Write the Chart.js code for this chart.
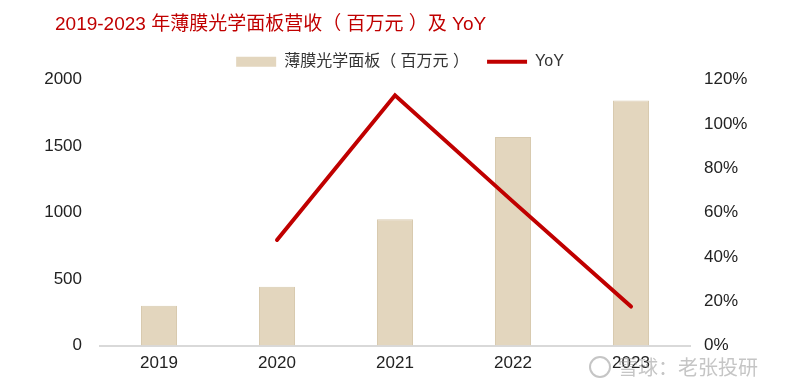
<!DOCTYPE html>
<html>
<head>
<meta charset="utf-8">
<script src="https://cdn.jsdelivr.net/npm/chart.js@4.4.1/dist/chart.umd.min.js"></script>
<style>
  html, body { margin: 0; padding: 0; background: #fff; }
  #wrap { width: 800px; height: 390px; }
</style>
</head>
<body>
<div id="wrap"><canvas id="chart" width="800" height="390"></canvas></div>
<script>
const years = ['2019', '2020', '2021', '2022', '2023'];
const revenue = [300, 443, 951, 1570, 1844];   // 百万元
const yoy = [null, 47.7, 113, 65, 17.6];       // %
const leftTicks = [0, 500, 1000, 1500, 2000];

const FONT = '"Liberation Sans", Arial, "Noto Sans CJK SC", sans-serif';

// title sits a little in from the left edge
const titleIndent = {
    id: 'titleIndent',
    afterLayout(chart) {
        if (chart.titleBlock) chart.titleBlock.left = 55;
    }
};

// faint watermark in the bottom right corner
const watermark = {
    id: 'watermark',
    afterDraw(chart) {
        const ctx = chart.ctx;
        ctx.save();
        ctx.fillStyle = 'rgba(150,150,150,0.55)';
        ctx.font = '20px "Noto Sans CJK SC", sans-serif';
        ctx.textBaseline = 'middle';
        ctx.fillText('雪球：老张投研', 618, 367);
        ctx.strokeStyle = 'rgba(150,150,150,0.55)';
        ctx.lineWidth = 2;
        ctx.beginPath();
        ctx.arc(600, 367, 10, 0, Math.PI * 2);
        ctx.stroke();
        ctx.restore();
    }
};

new Chart(document.getElementById('chart'), {
    data: {
        labels: years,
        datasets: [
            {
                type: 'line',
                label: 'YoY',
                data: yoy,
                yAxisID: 'y1',
                borderColor: '#c00000',
                backgroundColor: '#c00000',
                borderWidth: 4,
                borderCapStyle: 'round',
                pointRadius: 0,
                tension: 0,
                order: 0
            },
            {
                type: 'bar',
                label: '薄膜光学面板（ 百万元 ）',
                data: revenue,
                yAxisID: 'y',
                backgroundColor: '#e3d6be',
                borderColor: '#d8caaf',
                borderWidth: 1,
                barPercentage: 0.305,
                categoryPercentage: 1,
                order: 1
            }
        ]
    },
    options: {
        responsive: false,
        animation: false,
        layout: { padding: { left: 28, right: 28, top: 0, bottom: 8 } },
        plugins: {
            title: {
                display: true,
                text: '2019-2023 年薄膜光学面板营收（ 百万元 ）及 YoY',
                align: 'start',
                color: '#c00000',
                font: { family: FONT, size: 19, weight: 'normal' },
                padding: { top: 13, bottom: 0 }
            },
            legend: {
                reverse: true,
                labels: {
                    color: '#333',
                    font: { family: FONT, size: 16 },
                    usePointStyle: true,
                    pointStyleWidth: 40,
                    boxHeight: 10,
                    padding: 18,
                    generateLabels: chart => Chart.defaults.plugins.legend.labels.generateLabels(chart).map(l => ({
                        ...l,
                        pointStyle: l.text === 'YoY' ? 'line' : 'rect',
                        lineWidth: l.text === 'YoY' ? 4 : 0
                    }))
                }
            },
            tooltip: { enabled: false }
        },
        scales: {
            x: {
                grid: { display: false, drawTicks: false },
                border: { display: true, color: '#d9d9d9', width: 2 },
                ticks: { color: '#222', font: { family: FONT, size: 17 }, padding: 8 }
            },
            y: {
                position: 'left',
                min: 0,
                max: 2000,
                afterBuildTicks: axis => { axis.ticks = leftTicks.map(v => ({ value: v })); },
                grid: { display: false, drawTicks: false },
                border: { display: false },
                ticks: { color: '#222', font: { family: FONT, size: 17 }, padding: 18, callback: v => String(v) },
                afterFit: axis => { axis.width = 72; }
            },
            y1: {
                position: 'right',
                min: 0,
                max: 120,
                grid: { display: false, drawTicks: false },
                border: { display: false },
                ticks: {
                    stepSize: 20,
                    color: '#222',
                    font: { family: FONT, size: 17 },
                    padding: 14,
                    callback: v => v + '%'
                },
                afterFit: axis => { axis.width = 82; }
            }
        }
    },
    plugins: [titleIndent, watermark]
});
</script>
</body>
</html>
